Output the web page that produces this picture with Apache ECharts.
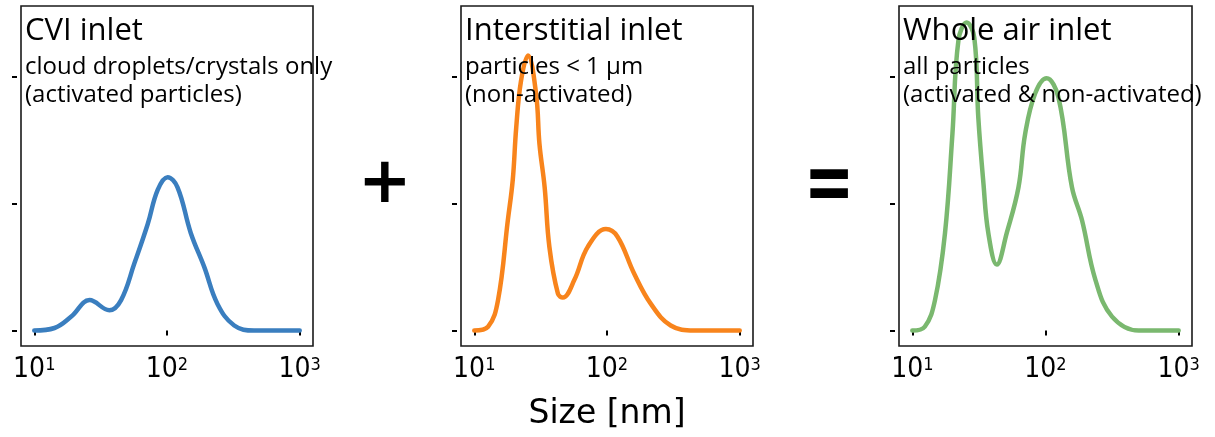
<!DOCTYPE html>
<html>
<head>
<meta charset="utf-8">
<script src="https://cdn.jsdelivr.net/npm/echarts@6/dist/echarts.min.js"></script>
<style>
html, body { margin: 0; padding: 0; background: #fff; }
#myChart { width: 1215px; height: 437px; }
</style>
</head>
<body>
<div id="myChart"></div>
<script>
// 粒径 (nm) 和相对浓度, 从图上读出来的
const cviSize = [10, 14.2, 19, 26.1, 36.8, 45.1, 56.8, 71.6, 85.1, 101, 120, 151, 191, 240, 321, 453, 1000]
const cviConc = [0, 0.02, 0.11, 0.24, 0.16, 0.24, 0.53, 0.84, 1.11, 1.21, 1.13, 0.77, 0.50, 0.21, 0.04, 0, 0]

const intSize = [10, 12.7, 15.1, 17.9, 19.5, 20.7, 22.5, 25.4, 29.2, 31.0, 33.9, 36.8, 42.7, 46.5, 56.8, 71.6, 98.2, 120, 160, 214, 302, 453, 1000]
const intConc = [0, 0.03, 0.24, 0.87, 1.19, 1.60, 1.97, 2.17, 1.87, 1.47, 1.13, 0.66, 0.29, 0.26, 0.40, 0.66, 0.80, 0.74, 0.45, 0.21, 0.04, 0, 0]

const wholeSize = [10, 12.4, 14.8, 17.6, 20.0, 22.2, 25.6, 29.2, 31.3, 34.2, 37.2, 43.1, 51.2, 62.7, 70.3, 83.6, 102, 125, 158, 188, 237, 316, 501, 1000]
const wholeConc = [0, 0.03, 0.24, 0.77, 1.55, 2.29, 2.43, 2.31, 1.68, 1.16, 0.77, 0.52, 0.77, 1.13, 1.55, 1.87, 1.99, 1.84, 1.13, 0.87, 0.40, 0.11, 0, 0]

// 刻度
const xTickValues = [10, 100, 1000]
const xTickExponents = ['1', '2', '3']
const yTickValues = [0, 1, 2]

const panelTitles = ['CVI inlet', 'Interstitial inlet', 'Whole air inlet']
const panelSubtitles = [
  'cloud droplets/crystals only\n(activated particles)',
  'particles < 1 \u03bcm\n(non-activated)',
  'all particles\n(activated & non-activated)'
]
const lineColors = ['#3a7ebf', '#f8841c', '#7ab86f']

const pairs = (xs, ys) => xs.map((x, i) => [x, ys[i]])
const seriesData = [pairs(cviSize, cviConc), pairs(intSize, intConc), pairs(wholeSize, wholeConc)]

const gridLefts = [21, 461, 899]
const tickFont = "'Liberation Sans Narrow', 'DejaVu Sans Condensed', sans-serif"

let options = {
  animation: false,
  backgroundColor: '#fff',
  title: panelTitles.map((t, i) => ({
    text: t,
    subtext: panelSubtitles[i],
    left: gridLefts[i] - 1,
    top: 11,
    itemGap: 6,
    textStyle: { fontFamily: 'Open Sans', fontSize: 31, fontWeight: 'normal', color: '#000' },
    subtextStyle: { fontFamily: 'Open Sans', fontSize: 24, lineHeight: 28, color: '#000' }
  })),
  grid: gridLefts.map((l, i) => ({
    left: l,
    top: 6,
    width: i === 2 ? 293 : 292,
    height: 340,
    show: true,
    borderColor: '#1a1a1a',
    borderWidth: 1.6,
    backgroundColor: 'transparent',
    outerBoundsMode: 'none'
  })),
  xAxis: gridLefts.map((l, i) => ({
    type: 'log',
    logBase: 10,
    gridIndex: i,
    min: Math.pow(10, 0.9),
    max: Math.pow(10, 3.1),
    offset: 3,
    axisLine: { show: false },
    splitLine: { show: false },
    axisTick: { customValues: xTickValues, length: 5, lineStyle: { color: '#000', width: 2 } },
    axisLabel: {
      customValues: xTickValues,
      margin: 7,
      formatter: (v) => '{b|10}{s|' + xTickExponents[xTickValues.indexOf(Math.round(v))] + '}',
      rich: {
        b: { fontFamily: tickFont, fontSize: 28, color: '#000' },
        s: { fontFamily: tickFont, fontSize: 18, color: '#000', verticalAlign: 'top' }
      }
    },
    name: i === 1 ? 'Size [nm]' : '',
    nameLocation: 'middle',
    nameGap: 49,
    nameTextStyle: { fontFamily: 'DejaVu Sans', fontSize: 33, color: '#000' }
  })),
  yAxis: gridLefts.map((l, i) => ({
    type: 'value',
    gridIndex: i,
    min: -0.122,
    max: 2.56,
    offset: 4,
    axisLine: { show: false },
    splitLine: { show: false },
    axisLabel: { show: false },
    axisTick: { customValues: yTickValues, length: 5, lineStyle: { color: '#000', width: 2 } }
  })),
  graphic: [
    { type: 'text', left: 358, top: 153, style: { text: '+', fontFamily: 'DejaVu Sans', fontWeight: 'bold', fontSize: 64, fill: '#000' } },
    { type: 'text', left: 804, top: 146, scaleY: 1.4, style: { text: '=', fontFamily: 'DejaVu Sans', fontWeight: 'bold', fontSize: 60, fill: '#000' } }
  ],
  series: seriesData.map((d, i) => ({
    type: 'line',
    xAxisIndex: i,
    yAxisIndex: i,
    data: d,
    smooth: 0.4,
    showSymbol: false,
    lineStyle: { color: lineColors[i], width: 4.5, cap: 'round', join: 'round' }
  }))
}

let echart = echarts.init(document.getElementById('myChart'))
echart.setOption(options)
</script>
</body>
</html>
